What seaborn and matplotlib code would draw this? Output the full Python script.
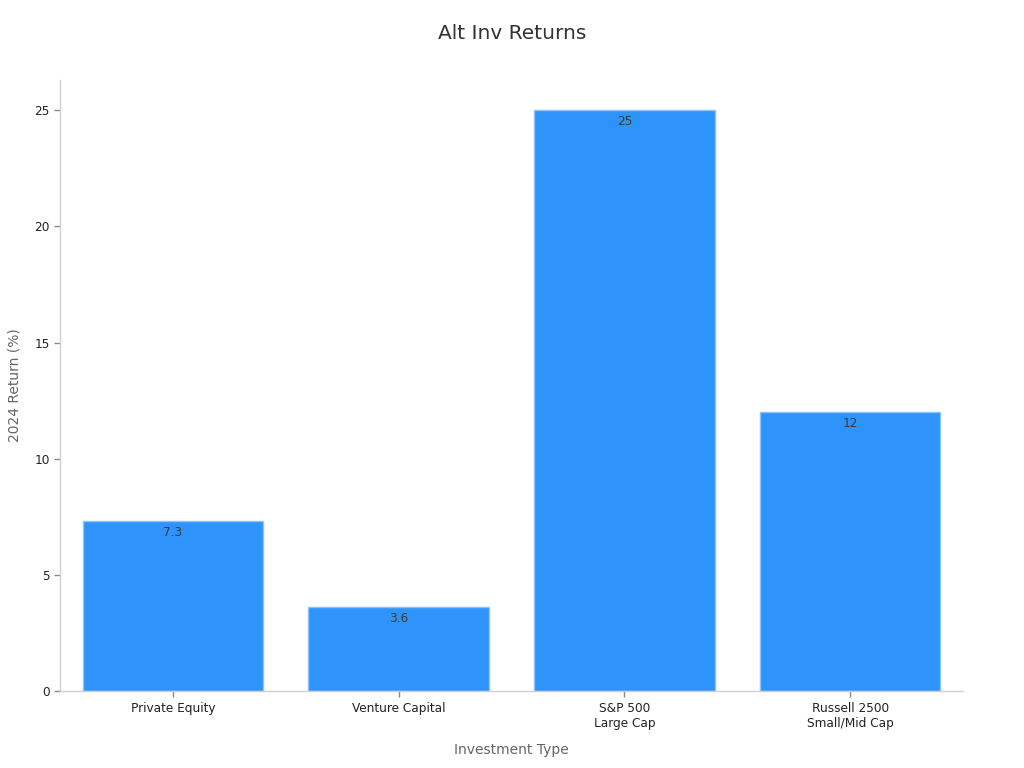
import seaborn as sns
import matplotlib.pyplot as plt
import pandas as pd

# data
categories = ['Private Equity', 'Venture Capital', 'S&P 500\nLarge Cap', 'Russell 2500\nSmall/Mid Cap']
returns = [7.3, 3.6, 25, 12]
value_labels = ['7.3', '3.6', '25', '12']

df = pd.DataFrame({'Investment Type': categories, 'Return': returns})

sns.set_style('white')
plt.rcParams['font.family'] = ['DejaVu Sans']

fig = plt.figure(figsize=(10.24, 7.68), dpi=100)
ax = fig.add_axes([0.0586, 0.1003, 0.8818, 0.7955])

sns.barplot(data=df, x='Investment Type', y='Return', color='#2E93FA',
            saturation=1, width=0.8, edgecolor='#8CC4F7', linewidth=1, ax=ax)

for i, p in enumerate(ax.patches):
    ax.text(p.get_x() + p.get_width() / 2, p.get_height() - 0.2, value_labels[i],
            ha='center', va='top', fontsize=8.7, color='#3a3a3a')

ax.set_xlim(-0.5, 3.5)
ax.set_ylim(0, 26.3)
ax.set_yticks([0, 5, 10, 15, 20, 25])
ax.tick_params(axis='both', labelsize=8.7, colors='#222222', length=4, width=1,
               color='#888888', bottom=True, left=True)
ax.tick_params(axis='x', pad=4)

for s in ['top', 'right']:
    ax.spines[s].set_visible(False)
for s in ['left', 'bottom']:
    ax.spines[s].set_color('#d0d0d0')
    ax.spines[s].set_linewidth(1)

ax.set_xlabel('Investment Type', fontsize=10, color='#666666', labelpad=9)
ax.set_ylabel('2024 Return (%)', fontsize=10, color='#666666', labelpad=9)
fig.suptitle('Alt Inv Returns', fontsize=14.5, color='#333333', y=0.957, va='center')

fig.savefig('out.png', dpi=100)
